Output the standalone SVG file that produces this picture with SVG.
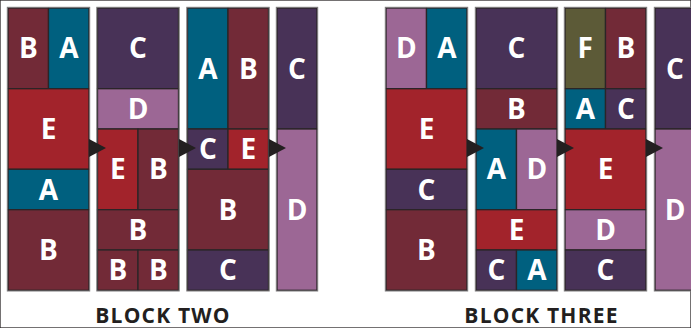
<svg xmlns="http://www.w3.org/2000/svg" width="691" height="328" viewBox="0 0 691 328">
<style>
rect{stroke:#2a2527;stroke-width:1.3}
.a{fill:#00607f}.b{fill:#722a37}.c{fill:#483257}.d{fill:#9c6795}.e{fill:#a2232b}.f{fill:#5c5a37}
.col{fill:none;stroke:#7d7b7c;stroke-width:1}
text.t{font-family:"Open Sans","DejaVu Sans",sans-serif;font-weight:bold;font-size:28px;fill:#fff;text-anchor:middle}
text.l{font-family:"Open Sans","DejaVu Sans",sans-serif;font-weight:bold;font-size:21px;fill:#231f20;text-anchor:middle;letter-spacing:1.2px}
.ar{fill:#231f20}
</style>
<rect width="691" height="328" fill="#fff" stroke="none"/>
<!-- BLOCK TWO -->
<g id="b2c1">
<g id="b2c1-b"><rect class="b" x="8" y="8" width="40.5" height="80.7"/><text class="t" x="28.3" y="58">B</text></g>
<g id="b2c1-a"><rect class="a" x="48.5" y="8" width="40.5" height="80.7"/><text class="t" x="68.8" y="58">A</text></g>
<g id="b2c1-e"><rect class="e" x="8" y="88.7" width="81" height="80.6"/><text class="t" x="48.5" y="139">E</text></g>
<g id="b2c1-a2"><rect class="a" x="8" y="169.3" width="81" height="40.4"/><text class="t" x="48.5" y="199.5">A</text></g>
<g id="b2c1-b2"><rect class="b" x="8" y="209.7" width="81" height="80.6"/><text class="t" x="48.5" y="260">B</text></g>
</g>
<g id="b2c2">
<g id="b2c2-c"><rect class="c" x="97.5" y="8" width="81" height="80.7"/><text class="t" x="138" y="58">C</text></g>
<g id="b2c2-d"><rect class="d" x="97.5" y="88.7" width="81" height="40.3"/><text class="t" x="138" y="119">D</text></g>
<g id="b2c2-e"><rect class="e" x="97.5" y="129" width="40.5" height="80.7"/><text class="t" x="117.8" y="179">E</text></g>
<g id="b2c2-b"><rect class="b" x="138" y="129" width="40.5" height="80.7"/><text class="t" x="158.3" y="179">B</text></g>
<g id="b2c2-b2"><rect class="b" x="97.5" y="209.7" width="81" height="40.3"/><text class="t" x="138" y="240">B</text></g>
<g id="b2c2-b3"><rect class="b" x="97.5" y="250" width="40.5" height="40.3"/><text class="t" x="117.8" y="280">B</text></g>
<g id="b2c2-b4"><rect class="b" x="138" y="250" width="40.5" height="40.3"/><text class="t" x="158.3" y="280">B</text></g>
</g>
<g id="b2c3">
<g id="b2c3-a"><rect class="a" x="187.5" y="8" width="40.5" height="121"/><text class="t" x="207.8" y="78.5">A</text></g>
<g id="b2c3-b"><rect class="b" x="228" y="8" width="40.5" height="121"/><text class="t" x="248.3" y="78.5">B</text></g>
<g id="b2c3-c"><rect class="c" x="187.5" y="129" width="40.5" height="40.3"/><text class="t" x="207.8" y="159">C</text></g>
<g id="b2c3-e"><rect class="e" x="228" y="129" width="40.5" height="40.3"/><text class="t" x="248.3" y="159">E</text></g>
<g id="b2c3-b2"><rect class="b" x="187.5" y="169.3" width="81" height="80.7"/><text class="t" x="228" y="219.5">B</text></g>
<g id="b2c3-c2"><rect class="c" x="187.5" y="250" width="81" height="40.3"/><text class="t" x="228" y="280">C</text></g>
</g>
<g id="b2c4">
<g id="b2c4-c"><rect class="c" x="277" y="8" width="40" height="121"/><text class="t" x="297" y="78.5">C</text></g>
<g id="b2c4-d"><rect class="d" x="277" y="129" width="40" height="161.3"/><text class="t" x="297" y="219.5">D</text></g>
</g>
<!-- BLOCK THREE -->
<g id="b3c1">
<g id="b3c1-d"><rect class="d" x="386" y="8" width="40.5" height="80.7"/><text class="t" x="406.3" y="58">D</text></g>
<g id="b3c1-a"><rect class="a" x="426.5" y="8" width="40.5" height="80.7"/><text class="t" x="446.8" y="58">A</text></g>
<g id="b3c1-e"><rect class="e" x="386" y="88.7" width="81" height="80.6"/><text class="t" x="426.5" y="139">E</text></g>
<g id="b3c1-c"><rect class="c" x="386" y="169.3" width="81" height="40.4"/><text class="t" x="426.5" y="199.5">C</text></g>
<g id="b3c1-b"><rect class="b" x="386" y="209.7" width="81" height="80.6"/><text class="t" x="426.5" y="260">B</text></g>
</g>
<g id="b3c2">
<g id="b3c2-c"><rect class="c" x="476" y="8" width="81" height="80.7"/><text class="t" x="516.5" y="58">C</text></g>
<g id="b3c2-b"><rect class="b" x="476" y="88.7" width="81" height="40.3"/><text class="t" x="516.5" y="119">B</text></g>
<g id="b3c2-a"><rect class="a" x="476" y="129" width="40.5" height="80.7"/><text class="t" x="496.3" y="179">A</text></g>
<g id="b3c2-d"><rect class="d" x="516.5" y="129" width="40.5" height="80.7"/><text class="t" x="536.8" y="179">D</text></g>
<g id="b3c2-e"><rect class="e" x="476" y="209.7" width="81" height="40.3"/><text class="t" x="516.5" y="240">E</text></g>
<g id="b3c2-c2"><rect class="c" x="476" y="250" width="40.5" height="40.3"/><text class="t" x="496.3" y="280">C</text></g>
<g id="b3c2-a2"><rect class="a" x="516.5" y="250" width="40.5" height="40.3"/><text class="t" x="536.8" y="280">A</text></g>
</g>
<g id="b3c3">
<g id="b3c3-f"><rect class="f" x="565" y="8" width="40.5" height="80.7"/><text class="t" x="585.3" y="58">F</text></g>
<g id="b3c3-b"><rect class="b" x="605.5" y="8" width="40.5" height="80.7"/><text class="t" x="625.8" y="58">B</text></g>
<g id="b3c3-a"><rect class="a" x="565" y="88.7" width="40.5" height="40.3"/><text class="t" x="585.3" y="119">A</text></g>
<g id="b3c3-c"><rect class="c" x="605.5" y="88.7" width="40.5" height="40.3"/><text class="t" x="625.8" y="119">C</text></g>
<g id="b3c3-e"><rect class="e" x="565" y="129" width="81" height="80.7"/><text class="t" x="605.5" y="179">E</text></g>
<g id="b3c3-d"><rect class="d" x="565" y="209.7" width="81" height="40.3"/><text class="t" x="605.5" y="240">D</text></g>
<g id="b3c3-c2"><rect class="c" x="565" y="250" width="81" height="40.3"/><text class="t" x="605.5" y="280">C</text></g>
</g>
<g id="b3c4">
<g id="b3c4-c"><rect class="c" x="655" y="8" width="40" height="121"/><text class="t" x="675" y="78.5">C</text></g>
<g id="b3c4-d"><rect class="d" x="655" y="129" width="40" height="161.3"/><text class="t" x="675" y="219.5">D</text></g>
</g>
<!-- column outlines -->
<g id="outlines">
<rect class="col" x="7.3" y="7.3" width="82.4" height="283.7"/>
<rect class="col" x="96.8" y="7.3" width="82.4" height="283.7"/>
<rect class="col" x="186.8" y="7.3" width="82.4" height="283.7"/>
<rect class="col" x="276.3" y="7.3" width="41.4" height="283.7"/>
<rect class="col" x="385.3" y="7.3" width="82.4" height="283.7"/>
<rect class="col" x="475.3" y="7.3" width="82.4" height="283.7"/>
<rect class="col" x="564.3" y="7.3" width="82.4" height="283.7"/>
<rect class="col" x="654.3" y="7.3" width="41.4" height="283.7"/>
</g>
<g id="connectors">
<polygon class="ar" points="89,139 106,148 89,157"/>
<polygon class="ar" points="179,139 196,148 179,157"/>
<polygon class="ar" points="269,139 286,148 269,157"/>
<polygon class="ar" points="467,139 484,148 467,157"/>
<polygon class="ar" points="557,139 574,148 557,157"/>
<polygon class="ar" points="646,139 663,148 646,157"/>
</g>
<g id="labels">
<text class="l" x="163" y="323">BLOCK TWO</text>
<text class="l" x="541.5" y="323">BLOCK THREE</text>
</g>
</svg>
